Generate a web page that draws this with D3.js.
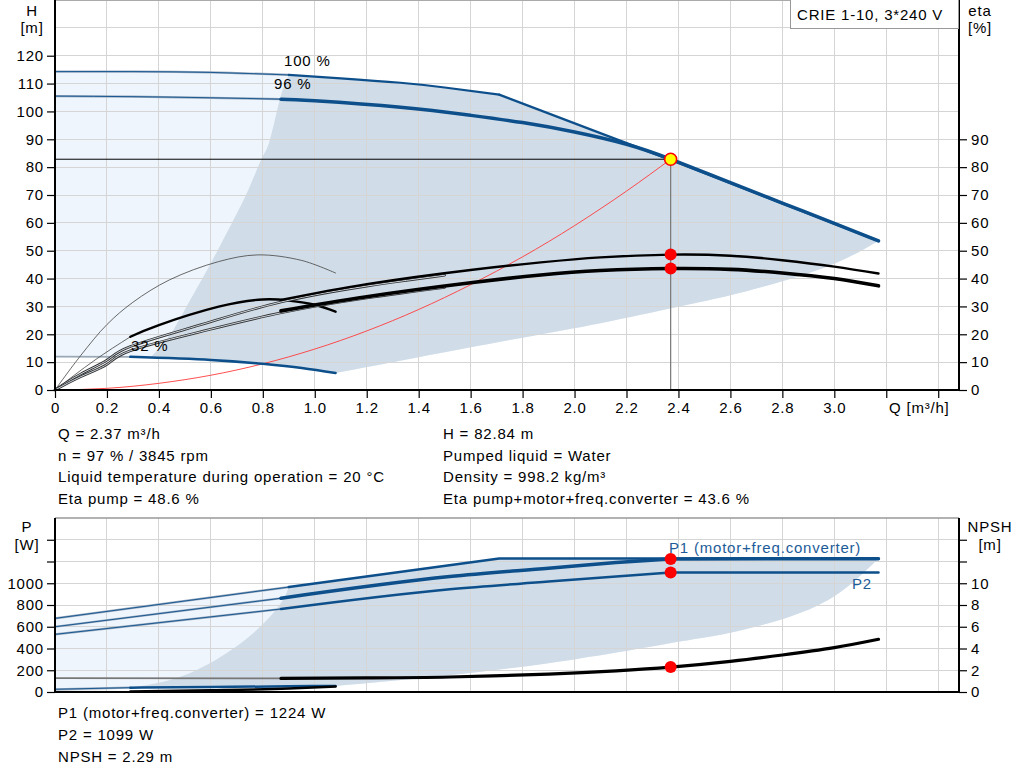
<!DOCTYPE html>
<html><head><meta charset="utf-8">
<script src="https://cdn.jsdelivr.net/npm/d3@7"></script>
<style>
body{margin:0;background:#fff;}
svg{display:block;font-family:"Liberation Sans",Arial,sans-serif;font-size:15px;letter-spacing:0.8px;}
</style>
</head><body>
<svg id="c" width="1024" height="781"></svg>
<script>
// ---------------- DATA ----------------
// Upper chart: head curves
const qH100 = [0, 0.3, 0.6, 0.9, 1.1, 1.33, 1.5, 1.71];
const vH100 = [114.3, 114.3, 114.0, 113.1, 111.9, 110.3, 108.6, 106.0];
const qHLim = [1.71, 2.37, 3.17];
const vHLim = [106.0, 82.6, 53.5];
const qH97 = [0, 0.3, 0.6, 0.87, 1.0, 1.33, 1.6, 1.8, 2.0, 2.2, 2.37, 2.6, 2.8, 3.0, 3.17];
const vH97 = [105.5, 105.3, 104.9, 104.4, 103.8, 101.5, 98.6, 96.0, 92.6, 88.2, 82.84, 74.4, 67.1, 59.8, 53.5];
const qHMin = [0, 0.29, 0.6, 0.8, 0.95, 1.08];
const vHMin = [12, 11.9, 10.8, 9.4, 7.9, 6.1];
// Region boundaries (upper)
const qLeftB = [0.37, 0.442, 0.506, 0.564, 0.622, 0.68, 0.744, 0.795, 0.827, 0.866, 0.9];
const vLeftB = [11.9, 19.7, 29.9, 39.5, 49.4, 59.8, 71.8, 82.9, 89.7, 104.5, 113.1];
const qLowB = [1.08, 1.4, 1.8, 2.1, 2.4, 2.6, 2.8, 3.0, 3.17];
const vLowB = [6.1, 11.8, 18.8, 24.0, 29.9, 34.0, 39.0, 45.3, 53.5];
// Efficiency curves (eta axis)
const qEta97 = [0.87, 1.2, 1.6, 1.87, 2.1, 2.37, 2.6, 2.8, 3.0, 3.17];
const vEtaPump97 = [32.3, 38.0, 43.1, 45.8, 47.6, 48.6, 48.2, 46.6, 44.3, 41.8];
const vEtaTot97 = [28.4, 33.5, 38.5, 41.3, 42.9, 43.6, 43.3, 42.0, 40.0, 37.4];
const qEta100 = [0, 0.1, 0.2, 0.29, 0.56, 0.87, 1.2, 1.5];
const vEtaPump100 = [0, 5.8, 10.7, 15.6, 23.4, 31.6, 37.3, 41.2];
const vEtaTot100 = [0, 4.8, 9.2, 14.1, 20.9, 27.7, 33.0, 36.8];
const qEtaMinPump = [0, 0.1, 0.2, 0.3, 0.44, 0.63, 0.78, 0.95, 1.08];
const vEtaMinPump = [0, 12.5, 23.5, 31.5, 39.5, 46.1, 48.5, 46.5, 42];
const qEtaMinTot = [0, 0.15, 0.29, 0.4, 0.63, 0.8, 0.9, 1.0, 1.08];
const vEtaMinTot = [0, 10.5, 19.1, 23.3, 29.9, 32.5, 32.1, 30.6, 28.1];
// System curve
const qSys = [0, 0.2, 0.4, 0.6, 0.8, 1.0, 1.2, 1.4, 1.6, 1.8, 2.0, 2.2, 2.37];
const vSys = [0, 0.6, 2.4, 5.3, 9.4, 14.7, 21.2, 28.9, 37.8, 47.8, 59.0, 71.4, 82.84];
// Duty point
const dutyQ = 2.37, dutyH = 82.84, dutyEtaPump = 48.6, dutyEtaTot = 43.6;
const dutyP1 = 1224, dutyP2 = 1099, dutyNPSH = 2.29;

// Lower chart: power and NPSH
const qP1_100 = [0, 0.9, 1.71, 3.17];
const vP1_100 = [677, 965, 1228, 1228];
const qP97 = [0, 0.87, 1.52, 1.9, 2.16, 2.37, 3.17];
const vP1_97 = [600, 862, 1061, 1138, 1190, 1224, 1226];
const vP2_97 = [530, 763, 945, 1015, 1062, 1099, 1099];
const qNPSH = [0, 0.87, 1.2, 1.52, 1.9, 2.16, 2.37, 2.6, 2.8, 3.0, 3.17];
const vNPSH = [1.27, 1.25, 1.3, 1.38, 1.65, 1.95, 2.29, 2.82, 3.4, 4.08, 4.85];
const qPMin = [0, 0.29, 0.6, 0.9, 1.08];
const vPMin = [25, 40, 46, 52, 56];
const qNMin = [0.29, 0.6, 0.9, 1.08];
const vNMin = [0.03, 0.15, 0.32, 0.5];
const qLeftBP = [0.29, 0.48, 0.66, 0.79, 0.87, 0.9];
const vLeftBP = [40, 138, 357, 600, 818, 965];
const qLowBP = [1.08, 1.5, 2.0, 2.4, 2.6, 2.8, 3.0, 3.17];
const vLowBP = [56, 150, 300, 461, 545, 670, 880, 1228];

// Ticks
const xTicks = [0,0.2,0.4,0.6,0.8,1.0,1.2,1.4,1.6,1.8,2.0,2.2,2.4,2.6,2.8,3.0,3.2,3.4];
const xTickLabels = ["0","0.2","0.4","0.6","0.8","1.0","1.2","1.4","1.6","1.8","2.0","2.2","2.4","2.6","2.8","3.0","",""];
const hTicks = [0,10,20,30,40,50,60,70,80,90,100,110,120];
const hGrid = [10,20,30,40,50,60,70,80,90,100,110,120,130];
const etaTicks = [0,10,20,30,40,50,60,70,80,90];
const pTicks = [0,200,400,600,800,1000,1200,1400];
const pTickLabels = ["0","200","400","600","800","1000","",""];
const nTicks = [0,2,4,6,8,10,12,14];
const nTickLabels = ["0","2","4","6","8","10","",""];

const infoLeft = ["Q = 2.37 m³/h","n = 97 % / 3845 rpm","Liquid temperature during operation = 20 °C","Eta pump = 48.6 %"];
const infoRight = ["H = 82.84 m","Pumped liquid = Water","Density = 998.2 kg/m³","Eta pump+motor+freq.converter = 43.6 %"];
const infoBottom = ["P1 (motor+freq.converter) = 1224 W","P2 = 1099 W","NPSH = 2.29 m"];

// ---------------- DRAW ----------------
const svg = d3.select("#c");
const X0 = 55, X1 = 959;
const x = d3.scaleLinear([0, 3.48], [X0, X1]);
const yH = d3.scaleLinear([0, 140], [390, 0]);
const yP = d3.scaleLinear([0, 1600], [692, 518]);
const yN = d3.scaleLinear([0, 16], [692, 518]);

const NAT = d3.curveNatural, LIN = d3.curveLinear, MON = d3.curveMonotoneX;
const zip = (a, b) => a.map((v, i) => [v, b[i]]);
const part = (pts, a, b) => pts.filter(p => p[0] >= a - 1e-9 && p[0] <= b + 1e-9);
const gen = (sy, curve) => d3.line().x(d => x(d[0])).y(d => sy(d[1])).curve(curve || NAT);
function region(sy, segs) {
  let s = "";
  segs.forEach((sg, i) => {
    const p = gen(sy, sg.c || NAT)(sg.p);
    s += i === 0 ? p : "L" + p.slice(1);
  });
  return s + "Z";
}

const BLUE = "#0d4f8b", LIGHT = "#eef5fc", DARK = "#d0dce8", GRID = "#d5d5d5";

const H100 = zip(qH100, vH100), HLim = zip(qHLim, vHLim), H97 = zip(qH97, vH97), HMin = zip(qHMin, vHMin);
const LeftB = zip(qLeftB, vLeftB), LowB = zip(qLowB, vLowB);

// Upper regions
svg.append("path").attr("fill", LIGHT).attr("d", region(yH, [
  {p: H100}, {p: HLim, c: LIN},
  {p: LowB.slice().reverse()}, {p: HMin.slice().reverse(), c: MON}
]));
svg.append("path").attr("fill", DARK).attr("d", region(yH, [
  {p: LeftB}, {p: part(H100, 0.9, 1.71)}, {p: HLim, c: LIN},
  {p: LowB.slice().reverse()}, {p: part(HMin, 0.29, 1.08).reverse()}
]));

// Lower regions
const P1_100 = zip(qP1_100, vP1_100), P1_97 = zip(qP97, vP1_97), P2_97 = zip(qP97, vP2_97);
const PMin = zip(qPMin, vPMin), LeftBP = zip(qLeftBP, vLeftBP), LowBP = zip(qLowBP, vLowBP);
svg.append("path").attr("fill", LIGHT).attr("d", region(yP, [
  {p: P1_100, c: LIN}, {p: LowBP.slice().reverse()}, {p: PMin.slice().reverse(), c: MON}
]));
svg.append("path").attr("fill", DARK).attr("d", region(yP, [
  {p: LeftBP}, {p: part(P1_100, 0.9, 3.17), c: LIN},
  {p: LowBP.slice().reverse()}, {p: part(PMin, 0.29, 1.08).reverse(), c: MON}
]));

// Grid
const grid = svg.append("g").attr("stroke", GRID).attr("stroke-width", 1).attr("shape-rendering", "crispEdges");
xTicks.filter(t => t > 0).forEach(t => {
  grid.append("line").attr("x1", x(t)).attr("x2", x(t)).attr("y1", 0).attr("y2", 390);
  grid.append("line").attr("x1", x(t)).attr("x2", x(t)).attr("y1", 518).attr("y2", 692);
});
hGrid.forEach(t => grid.append("line").attr("x1", X0).attr("x2", X1).attr("y1", yH(t)).attr("y2", yH(t)));
pTicks.filter(t => t > 0).forEach(t => grid.append("line").attr("x1", X0).attr("x2", X1).attr("y1", yP(t)).attr("y2", yP(t)));
svg.append("line").attr("x1", X0).attr("x2", X1).attr("y1", 0.5).attr("y2", 0.5).attr("stroke", "#aaa");
svg.append("line").attr("x1", X0).attr("x2", X1).attr("y1", 518).attr("y2", 518).attr("stroke", "#999").attr("stroke-width", 1.5);

// helpers to draw curves
function curve(sy, pts, stroke, w, c) {
  svg.append("path").attr("fill", "none").attr("stroke", stroke).attr("stroke-width", w)
    .attr("stroke-linecap", "round").attr("stroke-linejoin", "round")
    .attr("d", gen(sy, c)(pts));
}
function thinBlue(sy, pts, c) {
  curve(sy, pts, "#98abc0", 2.2, c);
  curve(sy, pts, BLUE, 0.9, c);
}
function doubleBlack(sy, pts) {
  curve(sy, pts, "#333", 2.6);
  curve(sy, pts, "#c9d2db", 1.0);
}

// Operating lines
svg.append("line").attr("x1", X0).attr("x2", x(dutyQ)).attr("y1", yH(dutyH)).attr("y2", yH(dutyH)).attr("stroke", "#000").attr("stroke-width", 1);
svg.append("line").attr("x1", x(dutyQ)).attr("x2", x(dutyQ)).attr("y1", yH(dutyH)).attr("y2", 390).attr("stroke", "#777").attr("stroke-width", 1.2);

// System curve
curve(yH, zip(qSys, vSys), "#ff3b3b", 0.9);

// Head curves
thinBlue(yH, part(H100, 0, 0.9));
curve(yH, part(H100, 0.9, 1.71), BLUE, 2.2);
curve(yH, HLim, BLUE, 2.4, LIN);
thinBlue(yH, part(H97, 0, 0.87));
curve(yH, part(H97, 0.87, 3.17), BLUE, 3.5);
curve(yH, part(HMin, 0, 0.29), "#9aa8b6", 1.8, LIN);
curve(yH, part(HMin, 0.29, 1.08), BLUE, 2.5);

// Efficiency curves
const EtaMinTot = zip(qEtaMinTot, vEtaMinTot);
curve(yH, zip(qEtaMinPump, vEtaMinPump), "#444", 0.8, d3.curveCatmullRom);
curve(yH, part(EtaMinTot, 0, 0.29), "#444", 0.8);
curve(yH, part(EtaMinTot, 0.29, 1.08), "#000", 2.4);
doubleBlack(yH, zip(qEta100, vEtaPump100));
doubleBlack(yH, zip(qEta100, vEtaTot100));
curve(yH, zip(qEta97, vEtaPump97), "#000", 2.4);
curve(yH, zip(qEta97, vEtaTot97), "#000", 3.6);

// Lower curves
thinBlue(yP, part(P1_100, 0, 0.9), LIN);
curve(yP, part(P1_100, 0.9, 3.17), BLUE, 2.4, LIN);
thinBlue(yP, part(P1_97, 0, 0.87), LIN);
curve(yP, part(P1_97, 0.87, 2.37), BLUE, 3.5, MON);
curve(yP, part(P1_97, 2.37, 3.17), BLUE, 3.5, LIN);
thinBlue(yP, part(P2_97, 0, 0.87), LIN);
curve(yP, part(P2_97, 0.87, 2.37), BLUE, 2.5, MON);
curve(yP, part(P2_97, 2.37, 3.17), BLUE, 2.5, LIN);
const NP = zip(qNPSH, vNPSH);
curve(yN, part(NP, 0, 0.87), "#777", 1.8, LIN);
curve(yN, part(NP, 0.87, 3.17), "#000", 3.2);
thinBlue(yP, part(PMin, 0, 0.29), LIN);
curve(yP, part(PMin, 0.29, 1.08), BLUE, 2.5, MON);
curve(yN, [[0, 0.05], [0.29, 0.03]], "#8a96a3", 1.4, LIN);
curve(yN, zip(qNMin, vNMin), "#000", 2.6, MON);

// Duty points
[[yH, dutyEtaPump], [yH, dutyEtaTot], [yP, dutyP1], [yP, dutyP2], [yN, dutyNPSH]].forEach(([sy, v]) => {
  svg.append("circle").attr("cx", x(dutyQ)).attr("cy", sy(v)).attr("r", 6).attr("fill", "#ff0000");
});
svg.append("circle").attr("cx", x(dutyQ)).attr("cy", yH(dutyH)).attr("r", 6).attr("fill", "#ffff00").attr("stroke", "#ff0000").attr("stroke-width", 1.6);

// Axes
function axis(g, ax) {
  g.call(ax);
  g.select(".domain").remove();
  g.selectAll(".tick line").attr("stroke", "#000").attr("stroke-width", 1.2);
  g.selectAll(".tick text").attr("font-size", 15).attr("fill", "#000").attr("font-family", null);
}
axis(svg.append("g").attr("transform", `translate(${X0},0)`),
  d3.axisLeft(yH).tickValues(hTicks).tickSize(8).tickPadding(3));
axis(svg.append("g").attr("transform", `translate(${X1},0)`),
  d3.axisRight(yH).tickValues(etaTicks).tickSize(8).tickPadding(4));
axis(svg.append("g").attr("transform", `translate(0,390)`),
  d3.axisBottom(x).tickValues(xTicks).tickSize(8).tickPadding(4).tickFormat((d, i) => xTickLabels[i]));
axis(svg.append("g").attr("transform", `translate(${X0},0)`),
  d3.axisLeft(yP).tickValues(pTicks).tickSize(8).tickPadding(3).tickFormat((d, i) => pTickLabels[i]));
axis(svg.append("g").attr("transform", `translate(${X1},0)`),
  d3.axisRight(yN).tickValues(nTicks).tickSize(8).tickPadding(4).tickFormat((d, i) => nTickLabels[i]));

const ax = svg.append("g").attr("stroke", "#000").attr("stroke-width", 2);
ax.append("line").attr("x1", X0).attr("x2", X0).attr("y1", 0).attr("y2", 391);
ax.append("line").attr("x1", X1).attr("x2", X1).attr("y1", 0).attr("y2", 391);
ax.append("line").attr("x1", X0 - 1).attr("x2", X1 + 1).attr("y1", 390).attr("y2", 390);
ax.append("line").attr("x1", X0).attr("x2", X0).attr("y1", 518).attr("y2", 693);
ax.append("line").attr("x1", X1).attr("x2", X1).attr("y1", 518).attr("y2", 693);
ax.append("line").attr("x1", X0 - 1).attr("x2", X1 + 1).attr("y1", 692).attr("y2", 692);

// Texts
function txt(t, xx, yy, anchor, fill) {
  svg.append("text").attr("x", xx).attr("y", yy).attr("text-anchor", anchor || "start")
    .attr("fill", fill || "#000").text(t);
}
txt("H", 32, 16, "middle"); txt("[m]", 32, 33, "middle");
txt("eta", 980, 16, "middle"); txt("[%]", 980, 33, "middle");
txt("P", 27, 532, "middle"); txt("[W]", 27, 550, "middle");
txt("NPSH", 990, 532, "middle"); txt("[m]", 990, 550, "middle");
txt("Q [m³/h]", 889, 413);
txt("100 %", 284, 66); txt("96 %", 274, 89); txt("32 %", 131, 351);
txt("P1 (motor+freq.converter)", 669, 553, "start", "#1d5c99");
txt("P2", 852, 589, "start", "#1d5c99");

// Title box
svg.append("rect").attr("x", 790.5).attr("y", -0.5).attr("width", 168).attr("height", 29).attr("fill", "#fff").attr("stroke", "#999");
txt("CRIE 1-10, 3*240 V", 797, 20);

infoLeft.forEach((t, i) => txt(t, 58, 439 + i * 21.7));
infoRight.forEach((t, i) => txt(t, 443, 439 + i * 21.7));
infoBottom.forEach((t, i) => txt(t, 58, 718 + i * 21.8));
</script>
</body></html>
